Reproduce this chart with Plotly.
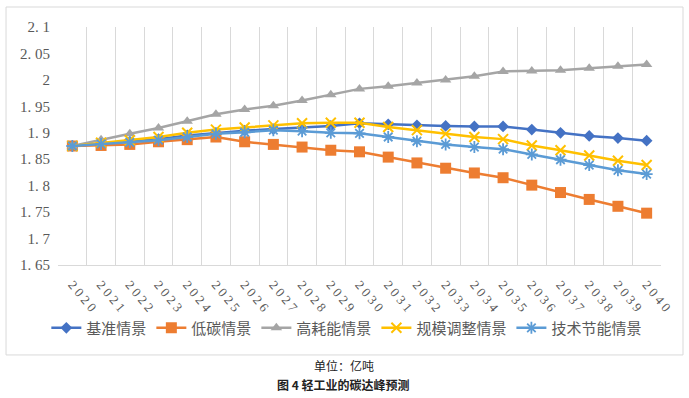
import plotly.graph_objects as go

years = [str(y) for y in range(2020, 2041)]
year_labels = ["\u00a0".join(y) for y in years]

baseline = [1.875, 1.879, 1.883, 1.888, 1.895, 1.900, 1.904, 1.907, 1.910, 1.913, 1.918,
            1.916, 1.914, 1.913, 1.912, 1.912, 1.906, 1.900, 1.894, 1.890, 1.885]
low_carbon = [1.875, 1.876, 1.878, 1.883, 1.887, 1.892, 1.883, 1.878, 1.873, 1.867, 1.864,
              1.854, 1.843, 1.833, 1.824, 1.815, 1.801, 1.787, 1.774, 1.761, 1.748]
high_energy = [1.875, 1.887, 1.898, 1.909, 1.922, 1.935, 1.944, 1.951, 1.961, 1.972, 1.983,
               1.988, 1.994, 2.000, 2.007, 2.016, 2.017, 2.018, 2.022, 2.026, 2.029]
scale_adj = [1.875, 1.881, 1.886, 1.892, 1.900, 1.906, 1.910, 1.914, 1.918, 1.919, 1.919,
             1.911, 1.905, 1.898, 1.892, 1.888, 1.876, 1.867, 1.857, 1.847, 1.839]
tech_saving = [1.875, 1.879, 1.882, 1.886, 1.892, 1.898, 1.901, 1.905, 1.903, 1.900, 1.899,
               1.892, 1.884, 1.878, 1.873, 1.869, 1.859, 1.849, 1.839, 1.829, 1.822]

series_names = ["基准情景", "低碳情景", "高耗能情景", "规模调整情景", "技术节能情景"]
y_ticks = [1.65, 1.7, 1.75, 1.8, 1.85, 1.9, 1.95, 2.0, 2.05, 2.1]
y_tick_text = ["1.\u00a065", "1.\u00a07", "1.\u00a075", "1.\u00a08", "1.\u00a085",
               "1.\u00a09", "1.\u00a095", "2", "2.\u00a005", "2.\u00a01"]

styles = [
    dict(color="#4472C4", symbol="diamond", size=9, lw=0),
    dict(color="#ED7D31", symbol="square", size=11, lw=0),
    dict(color="#A5A5A5", symbol="triangle-up", size=10, lw=0),
    dict(color="#FFC000", symbol="x-thin-open", size=10, lw=2),
    dict(color="#5B9BD5", symbol="asterisk-open", size=10, lw=1.8),
]

fig = go.Figure()
for name, vals, st in zip(series_names, [baseline, low_carbon, high_energy, scale_adj, tech_saving], styles):
    fig.add_trace(go.Scatter(
        x=years, y=vals, name=name, mode="lines+markers",
        line=dict(color=st["color"], width=2.5),
        marker=dict(symbol=st["symbol"], size=st["size"], color=st["color"],
                    line=dict(color=st["color"], width=st["lw"])),
    ))

fig.update_layout(
    width=689, height=398,
    margin=dict(l=58, r=28, t=27, b=133),
    paper_bgcolor="white", plot_bgcolor="white",
    font=dict(family="Liberation Serif, Noto Sans CJK SC", color="#595959"),
    showlegend=True,
    legend=dict(orientation="h", x=0.479, xanchor="center", y=-0.265, yanchor="middle",
                bgcolor="rgba(0,0,0,0)",
                font=dict(family="Noto Sans CJK SC", size=15, color="#595959"),
                itemwidth=30, tracegroupgap=0),
    xaxis=dict(type="category", tickmode="array", tickvals=years, ticktext=year_labels,
               tickangle=50, tickson="boundaries", showgrid=True, gridcolor="#D9D9D9",
               gridwidth=1, showline=True, linecolor="#D9D9D9", linewidth=1, ticks="",
               ticklabelstandoff=6, range=[-0.5, 20.5], automargin=False,
               tickfont=dict(family="Liberation Serif", size=13, color="#595959")),
    yaxis=dict(range=[1.65, 2.1], tickmode="array", tickvals=y_ticks, ticktext=y_tick_text,
               showgrid=False, zeroline=False, showline=False, ticks="",
               ticklabelstandoff=7, automargin=False,
               tickfont=dict(family="Liberation Serif", size=15, color="#595959")),
    shapes=[dict(type="rect", xref="paper", yref="paper",
                 x0=-0.0862, x1=1.0365, y0=-0.378, y1=1.084,
                 line=dict(color="#D9D9D9", width=1), fillcolor="rgba(0,0,0,0)", layer="below")],
    annotations=[
        dict(text="单位：亿吨", xref="paper", yref="paper", x=0.474, y=-0.424,
             xanchor="center", yanchor="middle", showarrow=False,
             font=dict(family="Noto Sans CJK SC", size=12, color="#222222")),
        dict(text="<b>图 4 轻工业的碳达峰预测</b>", xref="paper", yref="paper", x=0.474, y=-0.504,
             xanchor="center", yanchor="middle", showarrow=False,
             font=dict(family="Noto Sans CJK SC", size=12, color="#222222")),
    ],
)

fig.write_html("out.html", config={"displayModeBar": False},
               post_script="document.body.style.margin='0px';document.body.style.overflow='hidden';")
